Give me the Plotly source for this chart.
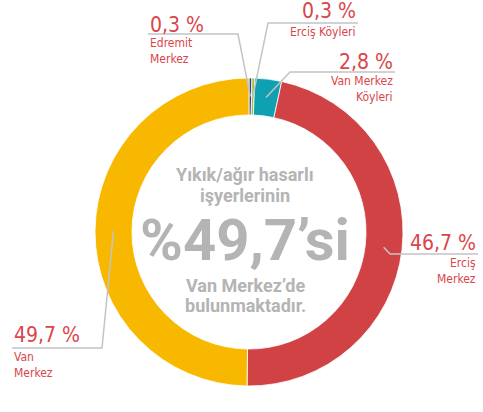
import math
import plotly.graph_objects as go

W, H = 483, 412

# ---- data ----
labels = ["Edremit Merkez", "Erciş Köyleri", "Van Merkez Köyleri", "Erciş Merkez", "Van Merkez"]
values = [0.3, 0.3, 2.8, 46.7, 49.7]
value_text = ["0,3 %", "0,3 %", "2,8 %", "46,7 %", "49,7 %"]
name_lines = [["Edremit", "Merkez"], ["Erciş Köyleri"], ["Van Merkez", "Köyleri"], ["Erciş", "Merkez"], ["Van", "Merkez"]]
colors = ["#3b3788", "#9cc33b", "#0fa0b2", "#d04244", "#f9b800"]
center_lines = ["Yıkık/ağır hasarlı", "işyerlerinin", "%49,7’si", "Van Merkez’de", "bulunmaktadır."]

# ---- layout helpers (pixel -> paper) ----
def px(x):
    return x / W

def py(y):
    return 1 - y / H

CX, CY, R = 249, 232, 154
HOLE = 0.76

RED = "#d9464b"
GRAY = "#b4b4b4"
LINE = "#c4c4c4"
FONT = "DejaVu Sans Condensed, Liberation Sans Narrow, Roboto, sans-serif"
BFONT = "Roboto, sans-serif"

fig = go.Figure(go.Pie(
    labels=labels, values=values, sort=False, direction="clockwise", rotation=0,
    hole=HOLE, textinfo="none", hoverinfo="label+value",
    marker=dict(colors=colors, line=dict(color="white", width=0.8)),
    domain=dict(x=[px(CX - R), px(CX + R)], y=[py(CY + R), py(CY - R)]),
    showlegend=False,
))

# label placement (pixels): anchor x, value y, line y, line corner x, align
label_pos = [
    dict(x=148, vy=25, ly=34, lx2=238, align="left"),
    dict(x=358, vy=11, ly=23, lx2=268, align="right"),
    dict(x=395, vy=62, ly=72, lx2=290, align="right"),
    dict(x=478, vy=243, ly=254, lx2=390, align="right"),
    dict(x=12, vy=335, ly=348, lx2=102, align="left"),
]

total = sum(values)
cum = 0.0
annotations = []
shapes = []
for i, v in enumerate(values):
    mid = (cum + v / 2) / total * 2 * math.pi
    cum += v
    rr = R * (HOLE + 1) / 2
    ex = CX + rr * math.sin(mid)
    ey = CY - rr * math.cos(mid)
    p = label_pos[i]
    xanchor = p["align"]
    annotations.append(dict(x=px(p["x"]), y=py(p["vy"]), xref="paper", yref="paper",
                            text=value_text[i], showarrow=False, xanchor=xanchor, yanchor="middle",
                            font=dict(family=FONT, size=21, color=RED)))
    for j, t in enumerate(name_lines[i]):
        annotations.append(dict(x=px(p["x"]), y=py(p["ly"] + 9 + j * 16), xref="paper", yref="paper",
                                text=t, showarrow=False, xanchor=xanchor, yanchor="middle",
                                font=dict(family=FONT, size=12, color=RED)))
    shapes.append(dict(type="path", xref="paper", yref="paper",
                       path=f"M {px(p['x'])},{py(p['ly'])} L {px(p['lx2'])},{py(p['ly'])} L {px(ex)},{py(ey)}",
                       line=dict(color=LINE, width=1.5)))

# center text
center_y = [175, 195, 240, 285, 305]
center_size = [18, 18, 58, 18, 18]
for t, y, s in zip(center_lines, center_y, center_size):
    annotations.append(dict(x=px(CX - 4), y=py(y), xref="paper", yref="paper", text=f"<b>{t}</b>",
                            showarrow=False, xanchor="center", yanchor="middle",
                            font=dict(family=BFONT, size=s, color=GRAY)))

fig.update_layout(width=W, height=H, margin=dict(l=0, r=0, t=0, b=0),
                  paper_bgcolor="white", plot_bgcolor="white",
                  annotations=annotations, shapes=shapes)

fig.write_html("out.html", config={"displayModeBar": False},
               post_script="document.body.style.margin='0';")
